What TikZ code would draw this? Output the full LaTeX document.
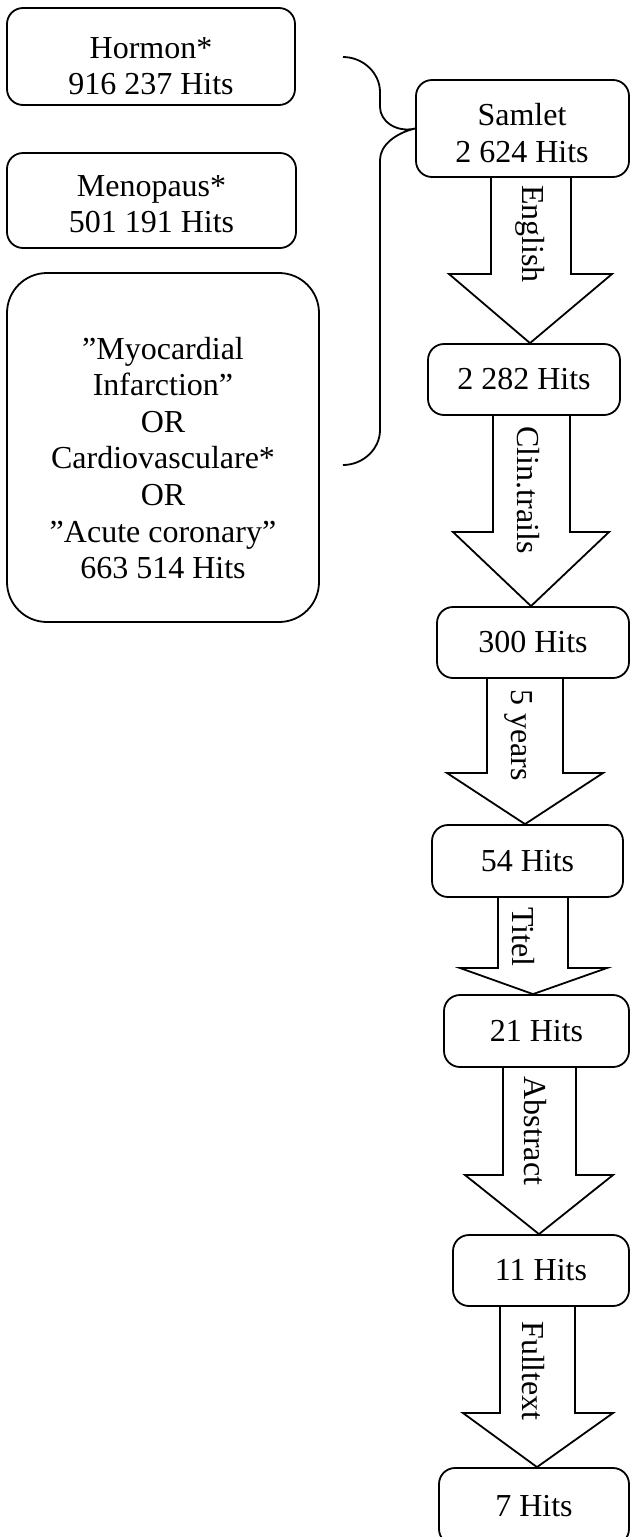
\documentclass[tikz,border=0pt]{standalone}
\usepackage{fontspec}
\setmainfont{Liberation Serif}
\begin{document}
\begin{tikzpicture}[x=0.5pt,y=-0.5pt,
  box/.style={draw, line width=0.9pt, rounded corners=8pt, inner sep=0pt},
  bigbox/.style={box, rounded corners=20pt},
  txt/.style={align=center, font=\fontsize{16}{18.3}\selectfont, inner sep=0pt},
  blk/.style={draw, line width=0.9pt, line join=miter},
  lbl/.style={rotate=-90, font=\fontsize{16}{18}\selectfont, inner sep=0pt},
  bracestyle/.style={draw, line width=0.9pt}]
\fill[white] (0,0) rectangle (630,1537);
\useasboundingbox (0,0) rectangle (630,1537);

% left search boxes
\node[box, minimum width=144pt, minimum height=48.5pt] (hormon) at (151,56.5) {};
\node[txt] (hormonT) at (151,66) {Hormon*\\916 237 Hits};
\node[box, minimum width=144.5pt, minimum height=47.5pt] (meno) at (151.5,200.5) {};
\node[txt] (menoT) at (151.5,204) {Menopaus*\\501 191 Hits};
\node[bigbox, minimum width=156pt, minimum height=174.5pt] (cardio) at (163,447.5) {};
\node[txt] (cardioT) at (163,458) {”Myocardial\\Infarction”\\OR\\Cardiovasculare*\\OR\\”Acute coronary”\\663 514 Hits};

% flow boxes
\node[box, minimum width=106.5pt, minimum height=48.5pt] (samlet) at (522.5,128.5) {};
\node[txt] (samletT) at (522,133) {Samlet\\2 624 Hits};
\node[box, txt, minimum width=96pt, minimum height=35.5pt] (h2282) at (524,379.5) {2 282 Hits};
\node[box, txt, minimum width=96pt, minimum height=35.5pt] (h300) at (533,642.5) {300 Hits};
\node[box, txt, minimum width=95.5pt, minimum height=36pt] (h54) at (527.5,861) {54 Hits};
\node[box, txt, minimum width=92.5pt, minimum height=36pt] (h21) at (536.5,1031) {21 Hits};
\node[box, txt, minimum width=88pt, minimum height=35.5pt] (h11) at (541,1270.5) {11 Hits};
\node[box, txt, minimum width=95pt, minimum height=38.5pt] (h7) at (534,1506.5) {7 Hits};

% brace
\coordinate (braceTop) at (343,57);
\coordinate (braceBot) at (343,465);
\draw[bracestyle] (braceTop) .. controls (363,57) and (380,73) .. (380,92)
  -- (380,107) .. controls (380,121) and (396,133) .. (samlet.west)
  .. controls (396,133) and (380,145) .. (380,160)
  -- (380,430) .. controls (380,449) and (363,465) .. (braceBot);

% block arrows: from, to, shaft L, shaft R, head top, head L, head R, tip x
\newcommand\blockarrow[8]{%
  \draw[blk] (#3,0 |- #1.south) -- (#3,#5) -- (#6,#5) -- (#8,0 |- #2.north)
    -- (#7,#5) -- (#4,#5) -- (#4,0 |- #1.south);}
\blockarrow{samlet}{h2282}{491}{571}{274}{449}{612}{530}
\blockarrow{h2282}{h300}{493}{570}{532}{453}{609}{531}
\blockarrow{h300}{h54}{487}{563}{773}{447}{603}{525}
\blockarrow{h54}{h21}{498}{568}{968}{460}{607}{533}
\blockarrow{h21}{h11}{503}{576}{1175}{465}{613}{539}
\blockarrow{h11}{h7}{500}{575}{1413}{463}{613}{537}

% arrow labels
\node[lbl] (lEnglish) at (530,234) {English};
\node[lbl] (lClin) at (528,490) {Clin.trails};
\node[lbl] (lYears) at (519,735) {5 years};
\node[lbl] (lTitel) at (523,937) {Titel};
\node[lbl] (lAbstract) at (535,1131) {Abstract};
\node[lbl] (lFull) at (533,1371) {Fulltext};
\end{tikzpicture}
\end{document}
